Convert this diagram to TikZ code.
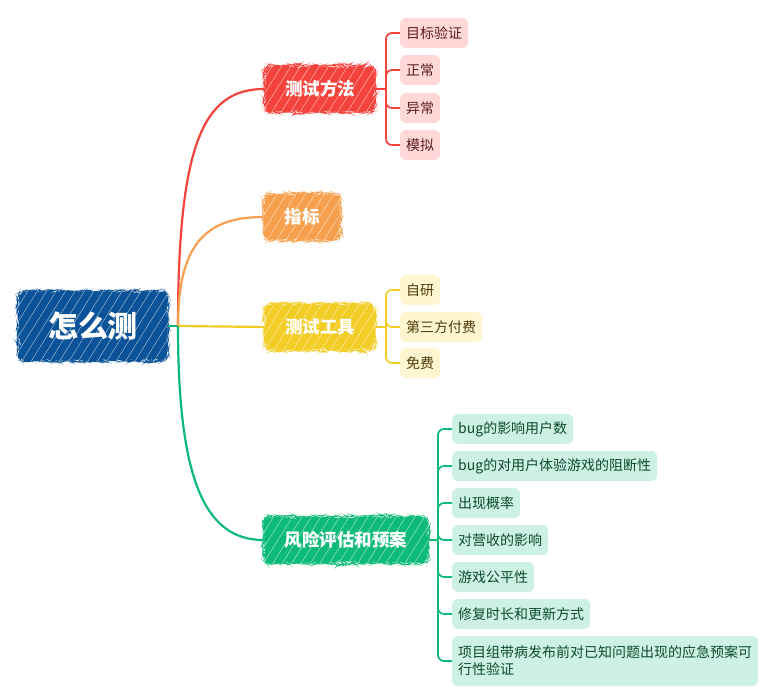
\documentclass[tikz,border=0pt]{standalone}
\usepackage{fontspec}
\setmainfont{Noto Sans CJK SC}
\usetikzlibrary{decorations.pathmorphing,patterns.meta}
\definecolor{cRoot}{HTML}{0B5398}
\definecolor{cRed}{HTML}{F4433C}
\definecolor{cOrange}{HTML}{F6A04D}
\definecolor{cYellow}{HTML}{F2CD25}
\definecolor{cGreen}{HTML}{0DBA79}
\definecolor{fRed}{HTML}{FFD8D7}
\definecolor{fYellow}{HTML}{FFF5D1}
\definecolor{fGreen}{HTML}{CDF1E2}
\definecolor{tRed}{HTML}{5A1E1E}
\definecolor{tYellow}{HTML}{4A3C08}
\definecolor{tGreen}{HTML}{0D4A32}
\tikzset{
  sketch/.style={fill=#1, rounded corners=7, decorate,
    decoration={random steps,segment length=2pt,amplitude=0.7pt},
    text=white, inner xsep=0pt, inner ysep=0pt,
    postaction={pattern={Lines[angle=58,distance=8pt,line width=0.35pt]}, pattern color=white!75!#1}},
  branch/.style={sketch=#1, minimum height=47, font=\bfseries\fontsize{17.5}{20}\selectfont},
  leaf/.style={fill=#1, rounded corners=6, minimum height=30, inner xsep=6, inner ysep=0,
    anchor=west, font=\fontsize{14}{18}\selectfont},
  conn/.style={draw=#1, line width=2.2pt},
  brk/.style={draw=#1, line width=1.7pt, rounded corners=6},
}
\begin{document}
\begin{tikzpicture}[x=1pt,y=-1pt]
\useasboundingbox (0,0) rectangle (777,698);

% root
\node[sketch=cRoot, minimum width=150, minimum height=70, font=\bfseries\fontsize{30}{34}\selectfont] (root) at (93,326) {怎么测};

% branches
\node[branch=cRed, minimum width=111] (b1) at (320,89) {测试方法};
\node[branch=cOrange, minimum width=77] (b2) at (302,217) {指标};
\node[branch=cYellow, minimum width=111] (b3) at (320,327) {测试工具};
\node[branch=cGreen, minimum width=165] (b4) at (346,540) {风险评估和预案};

% root connectors
\coordinate (r0) at (178,326);
\draw[conn=cGreen] (root.east) -- (r0);
\draw[conn=cRed] (r0) .. controls (178,140) and (205,89) .. (b1.west);
\draw[conn=cOrange] (r0) .. controls (178,245) and (205,217) .. (b2.west);
\draw[conn=cYellow] (r0) -- (b3.west);
\draw[conn=cGreen] (r0) .. controls (178,480) and (205,540) .. (b4.west);

% leaves branch 1
\node[leaf=fRed, text=tRed] (l11) at (400,33) {目标验证};
\node[leaf=fRed, text=tRed] (l12) at (400,70) {正常};
\node[leaf=fRed, text=tRed] (l13) at (400,108) {异常};
\node[leaf=fRed, text=tRed] (l14) at (400,145) {模拟};
\coordinate (j1) at (386,89);
\draw[brk=cRed] (b1.east) -- (j1);
\foreach \l in {l11,l12,l13,l14} \draw[brk=cRed] (j1) |- (\l.west);

% leaves branch 3
\node[leaf=fYellow, text=tYellow] (l31) at (400,290) {自研};
\node[leaf=fYellow, text=tYellow] (l32) at (400,327) {第三方付费};
\node[leaf=fYellow, text=tYellow] (l33) at (400,363) {免费};
\coordinate (j3) at (386,327);
\draw[brk=cYellow] (b3.east) -- (j3);
\foreach \l in {l31,l32,l33} \draw[brk=cYellow] (j3) |- (\l.west);

% leaves branch 4
\node[leaf=fGreen, text=tGreen] (l41) at (452,429) {bug的影响用户数};
\node[leaf=fGreen, text=tGreen] (l42) at (452,466) {bug的对用户体验游戏的阻断性};
\node[leaf=fGreen, text=tGreen] (l43) at (452,503) {出现概率};
\node[leaf=fGreen, text=tGreen] (l44) at (452,540) {对营收的影响};
\node[leaf=fGreen, text=tGreen] (l45) at (452,577) {游戏公平性};
\node[leaf=fGreen, text=tGreen] (l46) at (452,614) {修复时长和更新方式};
\node[leaf=fGreen, text=tGreen, minimum height=50, align=left] (l47) at (452,661) {项目组带病发布前对已知问题出现的应急预案可\\[-1pt]行性验证};
\coordinate (j4) at (438,540);
\draw[brk=cGreen] (b4.east) -- (j4);
\foreach \l in {l41,l42,l43,l44,l45,l46,l47} \draw[brk=cGreen] (j4) |- (\l.west);
\end{tikzpicture}
\end{document}
